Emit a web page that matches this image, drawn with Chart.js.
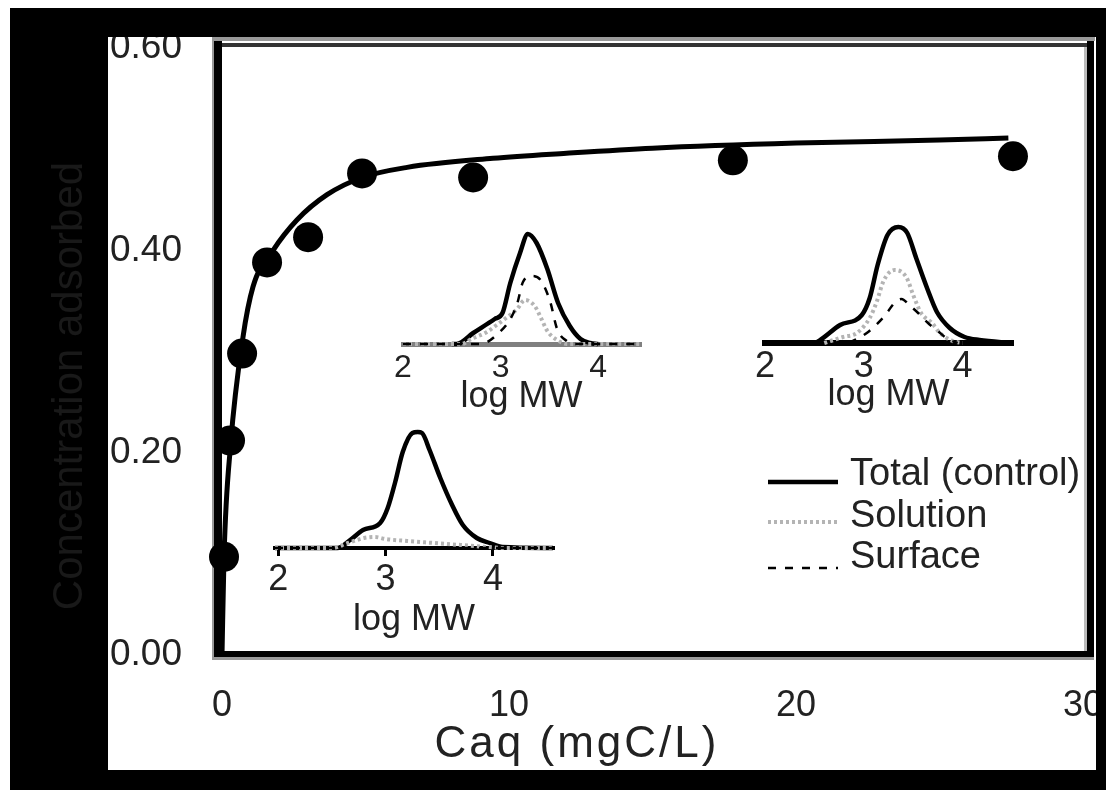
<!DOCTYPE html>
<html>
<head>
<meta charset="utf-8">
<title>Concentration adsorbed vs Caq</title>
<script src="https://cdn.jsdelivr.net/npm/chart.js@4.4.1/dist/chart.umd.min.js"></script>
<style>
  html, body { margin: 0; padding: 0; background: #fff; }
  #wrap { position: relative; width: 1106px; height: 790px; overflow: hidden; }
  #wrap canvas { position: absolute; }
</style>
</head>
<body>
<div id="wrap">
  <canvas id="mainChart" width="1106" height="790" style="left:0;top:0"></canvas>
  <canvas id="inset1" width="297" height="200" style="left:373px;top:224px"></canvas>
  <canvas id="inset2" width="307" height="200" style="left:735px;top:223px"></canvas>
  <canvas id="inset3" width="338" height="220" style="left:245px;top:428px"></canvas>
</div>
<script>
// Main isotherm: measured points and fitted curve
const xTicks = [0, 10, 20, 30];
const yTicks = [0, 0.2, 0.4, 0.6];
const caqMeasured = [0.07, 0.28, 0.70, 1.57, 3.0, 4.88, 8.75, 17.8, 27.56];
const adsMeasured = [0.097, 0.212, 0.298, 0.388, 0.413, 0.476, 0.472, 0.489, 0.493];
const caqFit = [0, 0.07, 0.3, 0.73, 1.08, 1.78, 2.61, 3.66, 4.88, 6.45, 9.44, 12, 15, 20, 25, 27.4];
const adsFit = [0, 0.097, 0.208, 0.314, 0.364, 0.400, 0.430, 0.455, 0.472, 0.482, 0.491, 0.496, 0.501, 0.506, 0.509, 0.511];

// MW distributions (log MW vs relative signal) for the three insets
const mwTicks = [2, 3, 4];

// upper middle inset
const total1X = [2.5, 2.55, 2.72, 2.94, 3.02, 3.10, 3.20, 3.28, 3.37, 3.48, 3.59, 3.71, 3.82, 3.92, 4.0];
const total1Y = [0, 0, 11, 25, 31, 61, 91, 110, 101, 75, 41, 18, 5, 1, 0];
const solution1X = [2.0, 2.6, 2.7, 2.86, 2.96, 3.07, 3.17, 3.25, 3.35, 3.41, 3.48, 3.58, 3.68, 4.43];
const solution1Y = [0, 0, 5, 12, 19, 27, 35, 44, 38, 27, 13, 4, 0, 0];
const surface1X = [2.0, 2.8, 2.97, 3.1, 3.17, 3.23, 3.32, 3.41, 3.51, 3.58, 3.68, 3.78, 4.43];
const surface1Y = [0, 0, 10, 25, 40, 62, 68, 64, 42, 15, 3, 0, 0];

// upper right inset
const total2X = [2.0, 2.5, 2.56, 2.76, 2.98, 3.06, 3.14, 3.24, 3.35, 3.44, 3.53, 3.64, 3.74, 3.87, 4.02, 4.17, 4.5];
const total2Y = [0, 0, 3, 18, 28, 45, 78, 108, 116, 110, 85, 55, 31, 15, 6, 3, 0];
const solution2X = [2.6, 2.79, 2.93, 3.06, 3.13, 3.2, 3.31, 3.43, 3.5, 3.58, 3.69, 3.77, 3.9, 4.0];
const solution2Y = [0, 6, 10, 25, 41, 62, 73, 66, 48, 30, 20, 10, 2, 0];
const surface2X = [2.85, 3.03, 3.21, 3.31, 3.38, 3.47, 3.55, 3.65, 3.75, 3.85, 3.95];
const surface2Y = [0, 10, 27, 40, 44, 37, 30, 20, 12, 4, 0];

// lower left inset (control)
const total3X = [1.97, 2.55, 2.67, 2.79, 2.95, 3.02, 3.09, 3.16, 3.25, 3.3, 3.34, 3.41, 3.51, 3.62, 3.72, 3.85, 3.97, 4.09, 4.56];
const total3Y = [0, 0, 8, 18, 25, 40, 66, 96, 115, 116, 115, 98, 70, 43, 23, 10, 5, 1, 0];
const solution3X = [1.97, 2.5, 2.65, 2.8, 2.9, 3.0, 3.2, 3.45, 3.7, 3.95, 4.1, 4.56];
const solution3Y = [0, 0, 5, 10, 11, 9, 7, 5, 3, 1, 0, 0];
const surface3X = [1.97, 4.56];
const surface3Y = [0, 0];

const FONT = "'Liberation Sans', Arial, Helvetica, sans-serif";
const TEXT = '#222';

const totalStyle = { borderColor: '#000', borderWidth: 4.5, borderDash: [] };
const solutionStyle = { borderColor: '#b4b4b4', borderWidth: 4, borderDash: [3, 3] };
const surfaceStyle = { borderColor: '#000', borderWidth: 2.5, borderDash: [8, 9] };

function pts(xs, ys) {
    return xs.map((x, i) => ({ x: x, y: ys[i] }));
}

function fixTicks(values) {
    return scale => { scale.ticks = values.map(v => ({ value: v })); };
}

// invisible tick marks are used as the gap between the plot box and the labels,
// so that the label padding does not eat into the plot area
function spacer(len) {
    return { display: true, drawOnChartArea: false, drawTicks: true, tickLength: len, color: 'rgba(0,0,0,0)' };
}

// frame, outer mat, axis titles and legend of the main plot
const framePlugin = {
    id: 'frame',
    beforeDraw(chart) {
        const ctx = chart.ctx;
        ctx.save();
        ctx.fillStyle = '#fff';
        ctx.fillRect(0, 0, chart.width, chart.height);
        ctx.restore();
    },
    beforeDatasetsDraw(chart) {
        const { ctx, chartArea: a } = chart;
        const w = a.right - a.left, h = a.bottom - a.top;
        ctx.save();
        ctx.fillStyle = '#999';
        ctx.fillRect(a.left - 10, a.top - 11, w + 22, 4);
        ctx.fillRect(a.left - 10, a.bottom + 2, w + 21, 3);
        ctx.fillRect(a.left - 10, a.top - 11, 2, h + 16);
        ctx.fillStyle = '#bbb';
        ctx.fillRect(a.right + 1, a.top - 5, 3, h + 4);
        ctx.fillStyle = '#333';
        ctx.fillRect(a.left, a.top - 5, w + 4, 4);
        ctx.fillStyle = '#000';
        ctx.fillRect(a.left - 8, a.top - 7, 8, h + 9);
        ctx.fillRect(a.left - 8, a.bottom - 4, w + 19, 6);
        ctx.fillRect(a.right + 4, a.top - 7, 7, h + 9);
        ctx.restore();
    },
    afterDraw(chart) {
        const ctx = chart.ctx;
        const W = chart.width, H = chart.height;
        ctx.save();
        // black mat round the white panel
        ctx.fillStyle = '#000';
        ctx.fillRect(10, 8, W - 10, 29);
        ctx.fillRect(10, 8, 98, H - 8);
        ctx.fillRect(1096, 8, W - 1096, H - 8);
        ctx.fillRect(10, 770, W - 10, H - 770);

        // y axis title, barely visible on the mat
        ctx.font = '42px ' + FONT;
        ctx.textAlign = 'center';
        ctx.textBaseline = 'middle';
        ctx.save();
        ctx.translate(70, 386);
        ctx.rotate(-Math.PI / 2);
        ctx.fillStyle = '#191919';
        ctx.fillText('Concentration adsorbed', 0, 0);
        ctx.restore();

        // x axis title
        ctx.font = '44px ' + FONT;
        ctx.fillStyle = TEXT;
        ctx.letterSpacing = '3px';
        ctx.fillText('Caq (mgC/L)', 577, 745);
        ctx.letterSpacing = '0px';

        // legend
        const items = [
            { label: 'Total (control)', style: totalStyle, y: 475, dy: 7 },
            { label: 'Solution', style: solutionStyle, y: 517, dy: 5 },
            { label: 'Surface', style: surfaceStyle, y: 558, dy: 10 }
        ];
        ctx.font = '38px ' + FONT;
        ctx.textAlign = 'left';
        items.forEach(item => {
            ctx.save();
            ctx.strokeStyle = item.style.borderColor;
            ctx.lineWidth = item.style.borderWidth;
            ctx.setLineDash(item.style.borderDash);
            ctx.beginPath();
            ctx.moveTo(768, item.y + item.dy);
            ctx.lineTo(838, item.y + item.dy);
            ctx.stroke();
            ctx.restore();
            ctx.fillStyle = TEXT;
            ctx.fillText(item.label, 850, item.y);
        });
        ctx.restore();
    }
};

new Chart(document.getElementById('mainChart'), {
    type: 'scatter',
    data: {
        datasets: [
            {
                label: 'Measured',
                data: pts(caqMeasured, adsMeasured),
                pointRadius: 15,
                pointHoverRadius: 15,
                backgroundColor: '#000',
                borderWidth: 0,
                clip: false
            },
            {
                label: 'Fit',
                data: pts(caqFit, adsFit),
                showLine: true,
                pointRadius: 0,
                borderColor: '#000',
                borderWidth: 5,
                cubicInterpolationMode: 'monotone',
                clip: false
            }
        ]
    },
    options: {
        responsive: false,
        animation: false,
        devicePixelRatio: 1,
        events: [],
        layout: { padding: { top: 48, right: 23, left: 0, bottom: 0 } },
        plugins: { legend: { display: false }, tooltip: { enabled: false } },
        scales: {
            x: {
                type: 'linear', min: 0, max: 30,
                afterBuildTicks: fixTicks(xTicks),
                afterFit: s => { s.height = 135; },
                grid: spacer(27),
                border: { display: false },
                ticks: { font: { family: FONT, size: 36 }, color: TEXT, padding: 2, maxRotation: 0, autoSkip: false }
            },
            y: {
                type: 'linear', min: 0, max: 0.6,
                afterBuildTicks: fixTicks(yTicks),
                afterFit: s => { s.width = 222; },
                grid: spacer(38),
                border: { display: false },
                ticks: { font: { family: FONT, size: 37 }, color: TEXT, padding: 2, callback: v => v.toFixed(2) }
            }
        }
    },
    plugins: [framePlugin]
});

function lineSet(label, data, style) {
    return {
        label: label,
        data: data,
        showLine: true,
        pointRadius: 0,
        borderColor: style.borderColor,
        borderWidth: style.borderWidth,
        borderDash: style.borderDash,
        cubicInterpolationMode: 'monotone',
        clip: false
    };
}

function makeInset(id, cfg) {
    new Chart(document.getElementById(id), {
        type: 'scatter',
        data: {
            datasets: [
                lineSet('Surface', cfg.surface, surfaceStyle),
                lineSet('Solution', cfg.solution, solutionStyle),
                lineSet('Total (control)', cfg.total, totalStyle)
            ]
        },
        options: {
            responsive: false,
            animation: false,
            devicePixelRatio: 1,
            events: [],
            layout: { padding: { left: 30, right: 30, top: 0, bottom: 0 } },
            plugins: { legend: { display: false }, tooltip: { enabled: false } },
            scales: {
                x: {
                    type: 'linear', min: cfg.min, max: cfg.max,
                    afterBuildTicks: fixTicks(mwTicks),
                    afterFit: s => { s.height = cfg.axisHeight; },
                    grid: { display: cfg.tickMarks, drawOnChartArea: false, drawTicks: cfg.tickMarks, tickLength: 8, lineWidth: 3, color: '#000' },
                    border: { display: true, color: cfg.baseColor, width: cfg.baseWidth },
                    ticks: { font: { family: FONT, size: cfg.tickSize }, color: TEXT, padding: cfg.tickPad, maxRotation: 0, autoSkip: false },
                    title: { display: true, text: 'log MW', font: { family: FONT, size: 36 }, color: TEXT, padding: { top: 0, bottom: cfg.titlePad } }
                },
                y: { display: false, min: 0, max: 120 }
            }
        }
    });
}

makeInset('inset1', {
    total: pts(total1X, total1Y), solution: pts(solution1X, solution1Y), surface: pts(surface1X, surface1Y),
    min: 2.0, max: 4.43, tickSize: 32, tickPad: 5, axisHeight: 80, titlePad: 5,
    baseColor: '#808080', baseWidth: 5, tickMarks: false
});
makeInset('inset2', {
    total: pts(total2X, total2Y), solution: pts(solution2X, solution2Y), surface: pts(surface2X, surface2Y),
    min: 2.0, max: 4.5, tickSize: 36, tickPad: 2, axisHeight: 80, titlePad: 6,
    baseColor: '#000', baseWidth: 6, tickMarks: false
});
makeInset('inset3', {
    total: pts(total3X, total3Y), solution: pts(solution3X, solution3Y), surface: pts(surface3X, surface3Y),
    min: 1.97, max: 4.56, tickSize: 36, tickPad: 2, axisHeight: 100, titlePad: 6,
    baseColor: '#000', baseWidth: 4, tickMarks: true
});
</script>
</body>
</html>
